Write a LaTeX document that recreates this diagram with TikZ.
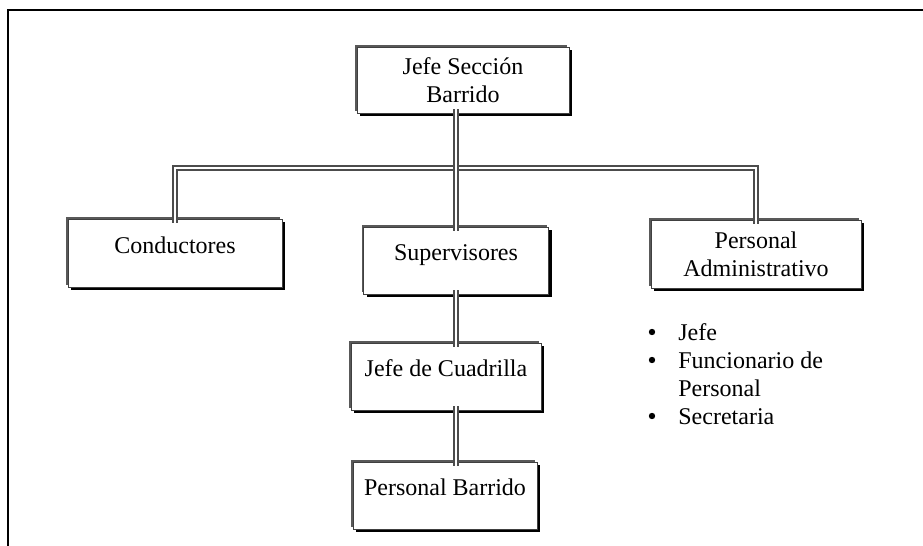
\documentclass[tikz,border=0pt]{standalone}
\usepackage{fontspec}
\setmainfont{Liberation Serif}
\usetikzlibrary{shadows}
\begin{document}
\begin{tikzpicture}[x=0.5pt,y=-0.5pt,
  orgbox/.style={draw=black!75, line width=0.4pt, fill=white, inner sep=2pt, align=center,
    font=\fontsize{12}{14}\selectfont,
    drop shadow={shadow xshift=-1pt, shadow yshift=1pt, fill=black!65, opacity=1},
    drop shadow={shadow xshift=1.6pt, shadow yshift=-1.6pt, fill=black, opacity=1}},
  oneline/.style={text height=9pt, text depth=9pt},
  link/.style={draw=black!70, double=white, line width=0.6pt, double distance=1.4pt,
    shorten <=-2pt, shorten >=-2pt},
  listtext/.style={anchor=base west, inner sep=0pt, font=\fontsize{12}{14}\selectfont},
  dotmark/.style={circle, fill=black, inner sep=0pt, minimum size=3.2pt}
]
\useasboundingbox (0,0) rectangle (923,546);

% page frame (top and left rules)
\draw[line width=1pt] (923,10) -- (8,10) -- (8,546);

% boxes
\node[orgbox, minimum width=106pt, minimum height=33pt] (jefe) at (463,80) {Jefe Sección\\Barrido};
\node[orgbox, oneline, minimum width=107pt, minimum height=34pt] (cond) at (175,253) {Conductores};
\node[orgbox, oneline, minimum width=92.5pt, minimum height=33.5pt] (sup) at (456,260.5) {Supervisores};
\node[orgbox, minimum width=105pt, minimum height=34pt] (adm) at (756,254) {Personal\\Administrativo};
\node[orgbox, oneline, minimum width=95pt, minimum height=33.5pt] (cuad) at (446,376.5) {Jefe de Cuadrilla};
\node[orgbox, oneline, minimum width=92pt, minimum height=33.5pt] (barr) at (445,495.5) {Personal Barrido};

% connectors
\coordinate (hub) at (456,168);
\draw[link] (cond.north) |- (hub) -| (adm.north);
\draw[link] (jefe.south -| sup.north) -- (sup.north);
\draw[link] (sup.south) -- (sup.south |- cuad.north);
\draw[link] (cuad.south -| sup.south) -- (barr.north -| sup.south);

% staff list
\node[dotmark] (d1) at (652,332) {};
\node[dotmark] (d2) at (652,360) {};
\node[dotmark] (d3) at (652,416) {};
\node[listtext] (l1) at (678,340) {Jefe};
\node[listtext] (l2) at (678,368) {Funcionario de};
\node[listtext] (l3) at (678,396) {Personal};
\node[listtext] (l4) at (678,424) {Secretaria};
\end{tikzpicture}
\end{document}
